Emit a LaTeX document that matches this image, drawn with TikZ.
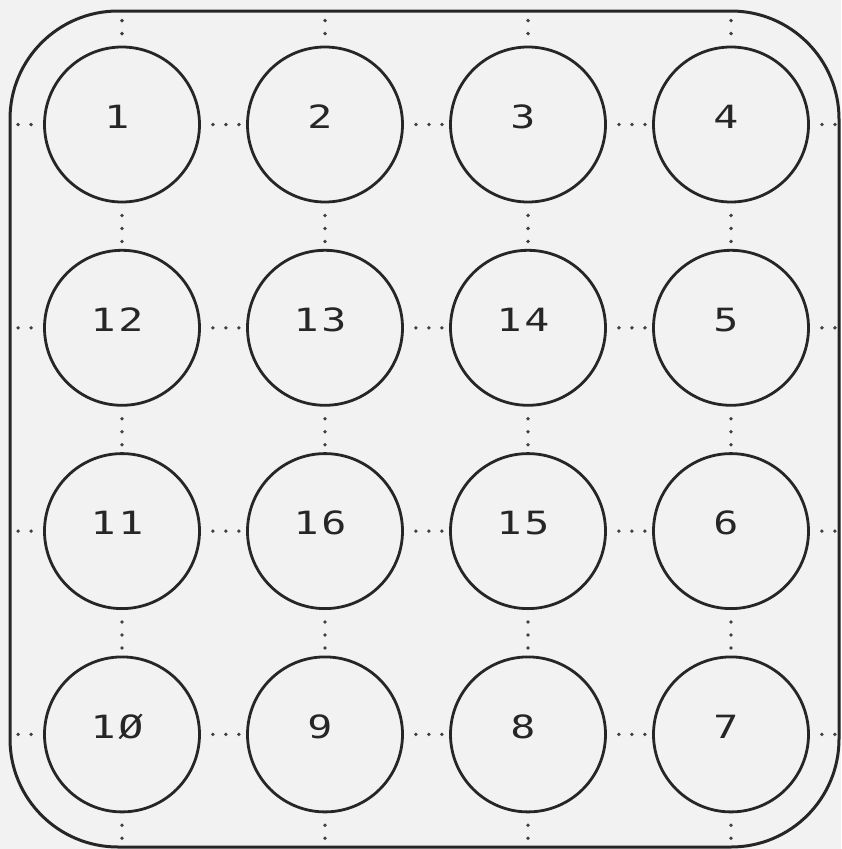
\documentclass[tikz,border=0pt]{standalone}
\usepackage{fontspec}
\setmonofont{DejaVu Sans Mono}
\usepackage{graphicx}
\newcommand{\numlbl}[1]{\scalebox{1.3}[1]{\fontsize{32}{32}\selectfont\ttfamily #1}}
\begin{document}
\begin{tikzpicture}[x=1pt,y=-1pt,
  disc/.style={circle,draw,line width=2.8pt,minimum size=155pt,inner sep=0pt,black!85},
  lbl/.style={inner sep=0pt,text=black!85},
  dotline/.style={line width=3.8pt,line cap=round,dash pattern=on 0pt off 13pt,dash phase=1pt,black!75},
  frame/.style={draw,line width=3pt,rounded corners=108pt,black!85}]
\useasboundingbox (0,0) rectangle (841,849);
\fill[black!5] (0,0) rectangle (841,849);
\draw[frame] (10,11) rectangle (839,847);
\coordinate (L) at (10,0);
\coordinate (R) at (839,0);
\coordinate (T) at (0,11);
\coordinate (B) at (0,847);
% circles
\foreach \n/\c/\r in {1/0/0,2/1/0,3/2/0,4/3/0,
                      12/0/1,13/1/1,14/2/1,5/3/1,
                      11/0/2,16/1/2,15/2/2,6/3/2,
                      10/0/3,9/1/3,8/2/3,7/3/3}{
  \node[disc] (c\n) at (122+203*\c,124.5+203.3*\r) {};
}
% labels
\node[lbl] at ([xshift=-5pt,yshift=8pt]c1.center) {\numlbl{1}};
\node[lbl] at ([xshift=-5pt,yshift=8pt]c2.center) {\numlbl{2}};
\node[lbl] at ([xshift=-5pt,yshift=8pt]c3.center) {\numlbl{3}};
\node[lbl] at ([xshift=-5pt,yshift=8pt]c4.center) {\numlbl{4}};
\node[lbl] at ([xshift=-5pt,yshift=8pt]c5.center) {\numlbl{5}};
\node[lbl] at ([xshift=-5pt,yshift=8pt]c6.center) {\numlbl{6}};
\node[lbl] at ([xshift=-5pt,yshift=8pt]c7.center) {\numlbl{7}};
\node[lbl] at ([xshift=-5pt,yshift=8pt]c8.center) {\numlbl{8}};
\node[lbl] at ([xshift=-5pt,yshift=8pt]c9.center) {\numlbl{9}};
\node[lbl] at ([xshift=-5pt,yshift=8pt]c10.center) {\numlbl{1\kern2pt Ø}};
\node[lbl] at ([xshift=-5pt,yshift=8pt]c11.center) {\numlbl{1\kern2pt 1}};
\node[lbl] at ([xshift=-5pt,yshift=8pt]c12.center) {\numlbl{1\kern2pt 2}};
\node[lbl] at ([xshift=-5pt,yshift=8pt]c13.center) {\numlbl{1\kern2pt 3}};
\node[lbl] at ([xshift=-5pt,yshift=8pt]c14.center) {\numlbl{1\kern2pt 4}};
\node[lbl] at ([xshift=-5pt,yshift=8pt]c15.center) {\numlbl{1\kern2pt 5}};
\node[lbl] at ([xshift=-5pt,yshift=8pt]c16.center) {\numlbl{1\kern2pt 6}};
% horizontal dotted links
\foreach \a/\b in {1/2,2/3,3/4,12/13,13/14,14/5,11/16,16/15,15/6,10/9,9/8,8/7}{
  \draw[dotline] (c\a.east) -- (c\b.west);
}
% vertical dotted links
\foreach \a/\b in {1/12,12/11,11/10,2/13,13/16,16/9,3/14,14/15,15/8,4/5,5/6,6/7}{
  \draw[dotline] (c\a.south) -- (c\b.north);
}
% links to the frame
\foreach \n in {1,12,11,10}{ \draw[dotline] (c\n.west) -- (c\n.west -| L); }
\foreach \n in {4,5,6,7}{ \draw[dotline] (c\n.east) -- (c\n.east -| R); }
\foreach \n in {1,2,3,4}{ \draw[dotline] (c\n.north) -- (c\n.north |- T); }
\foreach \n in {10,9,8,7}{ \draw[dotline] (c\n.south) -- (c\n.south |- B); }
\end{tikzpicture}
\end{document}
